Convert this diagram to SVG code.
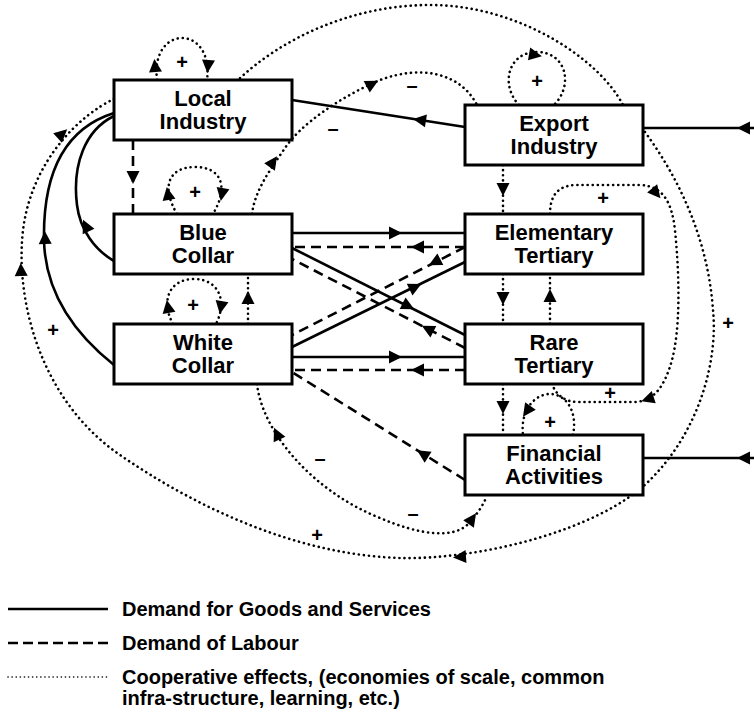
<svg xmlns="http://www.w3.org/2000/svg" xmlns:xlink="http://www.w3.org/1999/xlink" width="754" height="715" viewBox="0 0 754 715">
<style>
.box{fill:#fff;stroke:#000;stroke-width:3}
.lbl{font-family:"Liberation Sans",Arial,sans-serif;font-weight:bold;font-size:22px;text-anchor:middle;fill:#000}
.sign{font-family:"Liberation Sans",Arial,sans-serif;font-weight:bold;font-size:20px;text-anchor:middle;fill:#000}
.leg{font-family:"Liberation Sans",Arial,sans-serif;font-weight:bold;font-size:20px;fill:#000}
.s{fill:none;stroke:#000;stroke-width:2.6}
.d{fill:none;stroke:#000;stroke-width:2.6;stroke-dasharray:10 6}
.o{fill:none;stroke:#000;stroke-width:2.6;stroke-dasharray:0.1 5;stroke-linecap:round}
.lo{fill:none;stroke:#000;stroke-width:1.6;stroke-dasharray:0.1 4;stroke-linecap:round}
</style>
<defs>
<polygon id="ah" points="7,0 -6,-6.5 -6,6.5" fill="#000"/>
</defs>
<rect width="754" height="715" fill="#fff"/>
<g id="connectors">
<!-- big outer cooperative loop -->
<path class="o" d="M114,99 C80,115 32,160 23,230 C15,300 40,400 120,455 C200,510 300,555 400,558 C480,560 600,530 650,480 C700,430 718,360 713,310 C708,240 680,180 645,132 L623,105 C600,60 520,5 430,5 C350,5 280,40 238,80"/>
<use xlink:href="#ah" transform="translate(460,557) rotate(176)"/>
<use xlink:href="#ah" transform="translate(21,270) rotate(-92)"/>
<use xlink:href="#ah" transform="translate(62,134) rotate(-42)"/>
<!-- Local self loop -->
<path class="o" d="M157,80 C150,24 214,24 207,80"/>
<use xlink:href="#ah" transform="translate(155,66) rotate(-95)"/>
<use xlink:href="#ah" transform="translate(208,66) rotate(95)"/>
<!-- Blue self loop -->
<path class="o" d="M177,214 C160,185 170,167 195,167 C220,167 230,185 213,214"/>
<use xlink:href="#ah" transform="translate(168,194) rotate(-100)"/>
<use xlink:href="#ah" transform="translate(222,194) rotate(100)"/>
<!-- White self loop -->
<path class="o" d="M173,324 C160,300 170,279 194,279 C218,279 228,300 216,324"/>
<use xlink:href="#ah" transform="translate(168,307) rotate(-100)"/>
<use xlink:href="#ah" transform="translate(221,307) rotate(100)"/>
<!-- White to Blue -->
<path class="o" d="M248,324 L248,274"/>
<use xlink:href="#ah" transform="translate(248,298) rotate(-90)"/>
<!-- Blue top to Export (minus) -->
<path class="o" d="M252,214 C255,190 270,170 285,148 C300,125 340,97 380,80 C420,65 460,72 477,105"/>
<use xlink:href="#ah" transform="translate(273,162) rotate(-55)"/>
<use xlink:href="#ah" transform="translate(372,84) rotate(-28)"/>
<!-- Export self loop -->
<path class="o" d="M519,105 C500,85 508,52 537,52 C566,52 574,85 554,105"/>
<use xlink:href="#ah" transform="translate(535,55) rotate(10)"/>
<!-- Export to Elementary -->
<path class="o" d="M503,165 L503,214"/>
<use xlink:href="#ah" transform="translate(503,189) rotate(90)"/>
<!-- Elementary to Rare around right -->
<path class="o" d="M550,214 C550,195 558,186 575,185 L640,185 C665,186 672,205 675,230 C680,280 680,330 672,360 C665,385 655,401 635,402 L578,402 C565,402 556,395 552,384"/>
<use xlink:href="#ah" transform="translate(656,193) rotate(50)"/>
<use xlink:href="#ah" transform="translate(648,399) rotate(162)"/>
<!-- Elementary/Rare verticals -->
<path class="o" d="M503,274 L503,324"/>
<use xlink:href="#ah" transform="translate(503,298) rotate(90)"/>
<path class="o" d="M550,324 L550,274"/>
<use xlink:href="#ah" transform="translate(550,296) rotate(-90)"/>
<!-- Rare to Financial -->
<path class="o" d="M503,384 L503,435"/>
<use xlink:href="#ah" transform="translate(503,407) rotate(90)"/>
<!-- Financial self loop -->
<path class="o" d="M573,435 C578,410 565,394 550,394 C535,394 520,410 523,435"/>
<use xlink:href="#ah" transform="translate(527,411) rotate(125)"/>
<!-- White bottom to Financial bottom -->
<path class="o" d="M257,384 C262,430 310,490 380,518 C420,535 455,540 470,522 C478,513 483,505 487,496"/>
<use xlink:href="#ah" transform="translate(277,434) rotate(-115)"/>
<use xlink:href="#ah" transform="translate(472,519) rotate(-55)"/>
<!-- Local to Blue labour -->
<path class="d" d="M133,140 L133,214"/>
<use xlink:href="#ah" transform="translate(133,177) rotate(90)"/>
<!-- Blue/White to Local demand -->
<path class="s" d="M114,261 C95,250 80,230 77,205 C72,165 85,130 114,116"/>
<use xlink:href="#ah" transform="translate(86,226) rotate(-115)"/>
<path class="s" d="M114,365 C70,330 45,290 44,240 C43,180 60,130 114,113"/>
<use xlink:href="#ah" transform="translate(45,238) rotate(-92)"/>
<!-- Export to Local demand -->
<path class="s" d="M465,127 L292,100"/>
<use xlink:href="#ah" transform="translate(420,120) rotate(189)"/>
<!-- external inputs -->
<path class="s" d="M754,128 L643,128"/>
<use xlink:href="#ah" transform="translate(744,128) rotate(180)"/>
<path class="s" d="M754,458 L643,458"/>
<use xlink:href="#ah" transform="translate(744,458) rotate(180)"/>
<!-- Blue - Elementary -->
<path class="s" d="M292,233 L465,233"/>
<use xlink:href="#ah" transform="translate(395,233)"/>
<path class="d" d="M465,247 L292,247"/>
<use xlink:href="#ah" transform="translate(418,247) rotate(180)"/>
<!-- White - Rare -->
<path class="s" d="M292,357 L465,357"/>
<use xlink:href="#ah" transform="translate(395,357)"/>
<path class="d" d="M465,370 L292,370"/>
<use xlink:href="#ah" transform="translate(418,370) rotate(180)"/>
<!-- diagonals -->
<path class="s" d="M292,248 L465,335"/>
<use xlink:href="#ah" transform="translate(408,306) rotate(26.7)"/>
<path class="s" d="M292,347 L465,262"/>
<use xlink:href="#ah" transform="translate(415,287) rotate(-26.2)"/>
<path class="d" d="M465,247 L292,335"/>
<use xlink:href="#ah" transform="translate(435,262) rotate(153)"/>
<path class="d" d="M465,348 L292,259"/>
<use xlink:href="#ah" transform="translate(428,329) rotate(207)"/>
<!-- Financial to White labour -->
<path class="d" d="M465,480 L292,372"/>
<use xlink:href="#ah" transform="translate(423,454) rotate(212)"/>
</g>
<g id="signs">
<text class="sign" x="182" y="69">+</text>
<text class="sign" x="195" y="199">+</text>
<text class="sign" x="193" y="312">+</text>
<text class="sign" x="537" y="88">+</text>
<text class="sign" x="603" y="205">+</text>
<text class="sign" x="610" y="400">+</text>
<text class="sign" x="550" y="429">+</text>
<text class="sign" x="728" y="330">+</text>
<text class="sign" x="317" y="542">+</text>
<text class="sign" x="53" y="337">+</text>
<text class="sign" x="412" y="92">–</text>
<text class="sign" x="333" y="135">–</text>
<text class="sign" x="320" y="465">–</text>
<text class="sign" x="413" y="520">–</text>
</g>
<g id="local-industry"><rect class="box" x="114" y="80" width="178" height="60"/><text class="lbl" x="203" y="106">Local</text><text class="lbl" x="203" y="129">Industry</text></g>
<g id="blue-collar"><rect class="box" x="114" y="214" width="178" height="60"/><text class="lbl" x="203" y="240">Blue</text><text class="lbl" x="203" y="263">Collar</text></g>
<g id="white-collar"><rect class="box" x="114" y="324" width="178" height="60"/><text class="lbl" x="203" y="350">White</text><text class="lbl" x="203" y="373">Collar</text></g>
<g id="export-industry"><rect class="box" x="465" y="105" width="178" height="60"/><text class="lbl" x="554" y="131">Export</text><text class="lbl" x="554" y="154">Industry</text></g>
<g id="elementary-tertiary"><rect class="box" x="465" y="214" width="178" height="60"/><text class="lbl" x="554" y="240">Elementary</text><text class="lbl" x="554" y="263">Tertiary</text></g>
<g id="rare-tertiary"><rect class="box" x="465" y="324" width="178" height="60"/><text class="lbl" x="554" y="350">Rare</text><text class="lbl" x="554" y="373">Tertiary</text></g>
<g id="financial-activities"><rect class="box" x="465" y="435" width="178" height="60"/><text class="lbl" x="554" y="461">Financial</text><text class="lbl" x="554" y="484">Activities</text></g>
<g id="legend">
<line class="s" x1="8" y1="609" x2="108" y2="609"/>
<line class="d" x1="8" y1="643" x2="108" y2="643" style="stroke-dasharray:10 5"/>
<line class="lo" x1="8" y1="677" x2="108" y2="677"/>
<text class="leg" x="122" y="616">Demand for Goods and Services</text>
<text class="leg" x="122" y="650">Demand of Labour</text>
<text class="leg" x="122" y="684">Cooperative effects, (economies of scale, common</text>
<text class="leg" x="122" y="705">infra-structure, learning, etc.)</text>
</g>
</svg>
